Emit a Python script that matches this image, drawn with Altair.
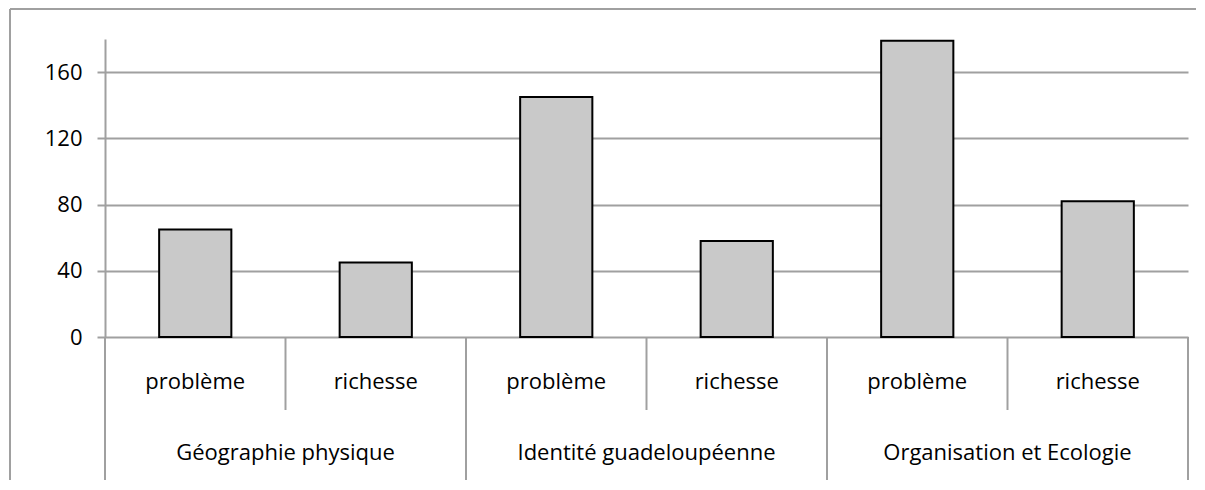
import altair as alt
import pandas as pd

groups = ["Géographie physique", "Identité guadeloupéenne", "Organisation et Ecologie"]
subcats = ["problème", "richesse"]
values = [65, 45, 145, 58, 179, 82]
y_ticks = [0, 40, 80, 120, 160]

rows = []
i = 0
for g in groups:
    for s in subcats:
        rows.append({"group": g, "sub": s, "value": values[i], "x0": i + 0.3, "x1": i + 0.7, "xc": i + 0.5})
        i += 1
df = pd.DataFrame(rows)

gdf = pd.DataFrame({"group": groups, "xc": [1.0, 3.0, 5.0]})
inner_sep = pd.DataFrame({"x": [1, 3, 5]})
outer_sep = pd.DataFrame({"x": [0, 2, 4, 6]})

W, H = 1083, 298
FONT = "Open Sans"
GRID = "#a0a0a0"

xscale = alt.Scale(domain=[0, 6], nice=False, zero=False)
yscale = alt.Scale(domain=[0, 180], nice=False)

bars = alt.Chart(df).mark_bar(color="#c9c9c9", stroke="black", strokeWidth=2).encode(
    x=alt.X("x0:Q", scale=xscale, axis=None),
    x2="x1:Q",
    y=alt.Y("value:Q", scale=yscale,
            axis=alt.Axis(values=y_ticks, title=None, grid=True, gridColor=GRID, gridWidth=2,
                          domain=True, domainColor=GRID, domainWidth=2,
                          ticks=True, tickColor=GRID, tickWidth=2, tickSize=8,
                          labelFont=FONT, labelFontSize=22, labelColor="black", labelPadding=15)),
    y2=alt.datum(0),
)

inner_rules = alt.Chart(inner_sep).mark_rule(color=GRID, strokeWidth=2).encode(
    x=alt.X("x:Q", scale=xscale, axis=None), y=alt.value(H), y2=alt.value(H + 73)
)
outer_rules = alt.Chart(outer_sep).mark_rule(color=GRID, strokeWidth=2).encode(
    x=alt.X("x:Q", scale=xscale, axis=None), y=alt.value(H), y2=alt.value(H + 146)
)

sub_text = alt.Chart(df).mark_text(font=FONT, fontSize=22, color="black", baseline="middle").encode(
    x=alt.X("xc:Q", scale=xscale, axis=None), y=alt.value(H + 45), text="sub:N"
)
group_text = alt.Chart(gdf).mark_text(font=FONT, fontSize=22, color="black", baseline="middle").encode(
    x=alt.X("xc:Q", scale=xscale, axis=None), y=alt.value(H + 116), text="group:N"
)

one = pd.DataFrame({"a": [0]})
border_top = alt.Chart(one).mark_rule(color=GRID, strokeWidth=2).encode(
    x=alt.value(-95), x2=alt.value(W + 200), y=alt.value(-30)
)
border_left = alt.Chart(one).mark_rule(color=GRID, strokeWidth=2).encode(
    x=alt.value(-95), y=alt.value(-30), y2=alt.value(H + 300)
)
edge_mask = alt.Chart(one).mark_rule(color="white", strokeWidth=4).encode(
    x=alt.value(W + 8), y=alt.value(-28), y2=alt.value(H + 300)
)

chart = alt.layer(border_top, border_left, edge_mask, inner_rules, outer_rules, bars, sub_text, group_text).properties(
    width=W, height=H,
    autosize=alt.AutoSizeParams(type="none"),
    padding={"left": 97, "top": 31, "right": 8, "bottom": 143},
    background="white",
).configure_view(stroke=None)

chart.save("out.html", embed_options={"renderer": "svg", "actions": False})
